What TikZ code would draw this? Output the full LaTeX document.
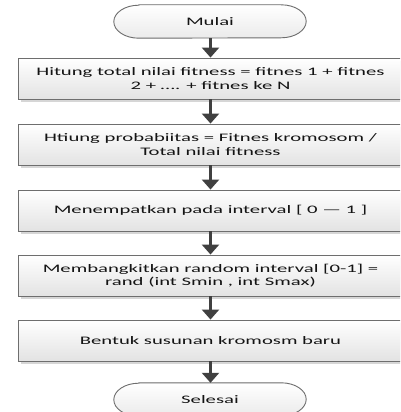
\documentclass[tikz,border=0pt]{standalone}
\usepackage{fontspec}
\setmainfont[FakeStretch=1.8]{Carlito}
\usetikzlibrary{arrows.meta,calc}
\definecolor{txt}{HTML}{141414}
\definecolor{edge}{HTML}{6E6E6E}
\definecolor{arr}{HTML}{404040}
\definecolor{shad}{HTML}{D6D6D6}
\tikzset{
  stepbox/.style={rectangle, draw=edge, line width=0.9pt, top color=white, bottom color=black!11,
    minimum width=385pt, minimum height=41pt, inner sep=0pt, align=center,
    font=\fontsize{11.5}{13.5}\selectfont, text=txt},
  termnode/.style={rectangle, draw=none, minimum width=192pt, minimum height=33pt, inner sep=0pt,
    font=\fontsize{11.5}{13.5}\selectfont, text=txt},
  termshape/.style={draw=edge, line width=0.9pt, top color=white, bottom color=black!8},
  flow/.style={draw=arr, line width=3pt, -{Triangle[width=17pt,length=10pt]}},
}
\newcommand\termpath[1]{($(#1.north west)+(25,0)$) -- ($(#1.north east)+(-25,0)$)
  arc[start angle=90, end angle=-90, x radius=25pt, y radius=16.5pt]
  -- ($(#1.south west)+(25,0)$)
  arc[start angle=270, end angle=90, x radius=25pt, y radius=16.5pt] -- cycle}
\begin{document}
\begin{tikzpicture}[x=1pt,y=-1pt]
\useasboundingbox (0,0) rectangle (400,412);
\clip (0,0) rectangle (400,412);
\fill[white] (0,0) rectangle (400,412);
% shadows
\foreach \yy in {78.5,144.5,210.5,275.5,340.5}{
  \fill[shad] (21,\yy-20.5+3) rectangle (406,\yy+20.5+3);
}
\node[termnode] (start) at (210,21.5) {};
\node[termnode] (stop) at (210,399.5) {};
\fill[shad, shift={(3pt,-3pt)}] \termpath{start};
\fill[shad, shift={(3pt,-3pt)}] \termpath{stop};
\draw[termshape] \termpath{start};
\draw[termshape] \termpath{stop};
\node[termnode] at (start) {Mulai};
\node[termnode] at (stop) {Selesai};

\node[stepbox] (b1) at (210.5,78.5) {Hitung total nilai fitness = fitnes 1 + fitnes\\2 + …. + fitnes ke N};
\node[stepbox] (b2) at (210.5,144.5) {Htiung probabiitas = Fitnes kromosom /\\Total nilai fitness};
\node[stepbox] (b3) at (210.5,210.5) {Menempatkan pada interval [ 0 — 1 ]};
\node[stepbox] (b4) at (210.5,275.5) {Membangkitkan random interval [0-1] =\\rand (int Smin , int Smax)};
\node[stepbox] (b5) at (210.5,340.5) {Bentuk susunan kromosm baru};

\draw[flow] (start.south -| b1.north) -- (b1.north);
\draw[flow] (b1.south) -- (b2.north);
\draw[flow] (b2.south) -- (b3.north);
\draw[flow] (b3.south) -- (b4.north);
\draw[flow] (b4.south) -- (b5.north);
\draw[flow] (b5.south) -- (b5.south |- stop.north);
\end{tikzpicture}
\end{document}
